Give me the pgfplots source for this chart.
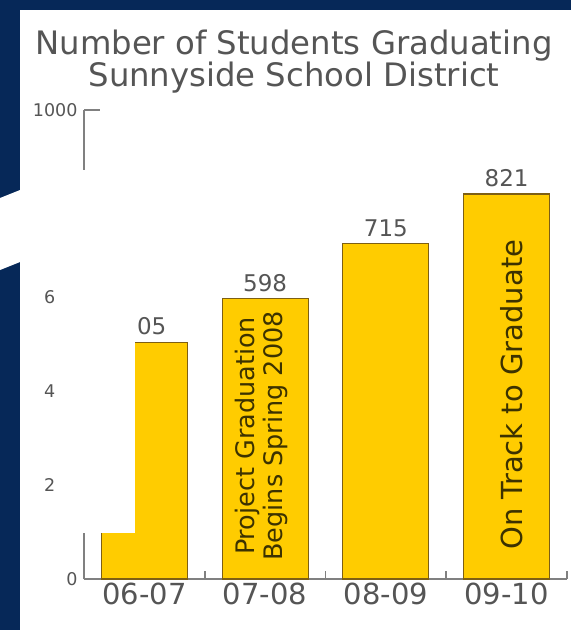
\documentclass[border=0pt]{standalone}
\usepackage{fontspec}
\setmainfont{DejaVu Sans}
\usepackage{pgfplots}
\pgfplotsset{compat=1.18}

\definecolor{navy}{RGB}{6,40,88}
\definecolor{barfill}{RGB}{255,204,0}
\definecolor{baredge}{RGB}{125,95,20}
\definecolor{inktext}{RGB}{85,85,85}
\definecolor{axisgrey}{RGB}{128,128,128}
\definecolor{bartext}{RGB}{60,50,0}

\begin{document}
\begin{tikzpicture}
% slide background and white panel
\fill[navy] (0pt,0pt) rectangle (571pt,-630pt);
\fill[white] (20pt,-10pt) rectangle (571pt,-630pt);
\fill[white] (0pt,-198pt) -- (20pt,-190pt) -- (20pt,-262pt) -- (0pt,-270pt) -- cycle;

% title, two tightly set lines
\node[align=center, font=\fontsize{32.3}{28.5}\selectfont, text=inktext, inner sep=0pt]
  at (294pt,-61.5pt) {Number of Students Graduating\\Sunnyside School District};

\begin{axis}[
  at={(84pt,-579pt)}, anchor=south west,
  scale only axis, width=483pt, height=469pt,
  xmin=-0.5, xmax=3.5, ymin=0, ymax=1000,
  clip=false,
  axis x line*=bottom, axis y line*=left,
  axis line style={axisgrey, line width=1.6pt, -},
  tick style={axisgrey, line width=1.6pt},
  tick align=inside,
  major tick length=8pt,
  xtick={-0.5,0.5,1.5,2.5,3.5}, xticklabels={},
  extra x ticks={0,1,2,3},
  extra x tick labels={06-07,07-08,08-09,09-10},
  extra x tick style={major tick length=0pt},
  xticklabel style={font=\fontsize{29}{29}\selectfont, text=inktext},
  ytick={0,200,400,600,800},
  yticklabels={0,2\phantom{00},4\phantom{00},6\phantom{00},{}},
  extra y ticks={1000}, extra y tick labels={1000},
  extra y tick style={major tick length=16pt},
  yticklabel style={font=\fontsize{17.5}{17.5}\selectfont, text=inktext, xshift=-3pt},
]
\addplot[ybar, bar width=86pt, fill=barfill, draw=baredge, line width=1.2pt,
  nodes near coords, point meta=explicit symbolic,
  nodes near coords style={font=\fontsize{23}{23}\selectfont, text=inktext, yshift=3pt}]
  coordinates {(0,505)[\phantom{5}05] (1,598)[598] (2,715)[715] (3,821)[821]};

\node[rotate=90, align=center, font=\fontsize{25.5}{28}\selectfont, text=bartext]
  at (axis cs:0.97,305) {Project Graduation\\Begins Spring 2008};
\node[rotate=90, font=\fontsize{29}{29}\selectfont, text=bartext]
  at (axis cs:3.04,393) {On Track to Graduate};
\end{axis}

% white panel laid over the left part of the chart
\fill[white] (57pt,-170pt) rectangle (135pt,-533pt);
\end{tikzpicture}
\end{document}
